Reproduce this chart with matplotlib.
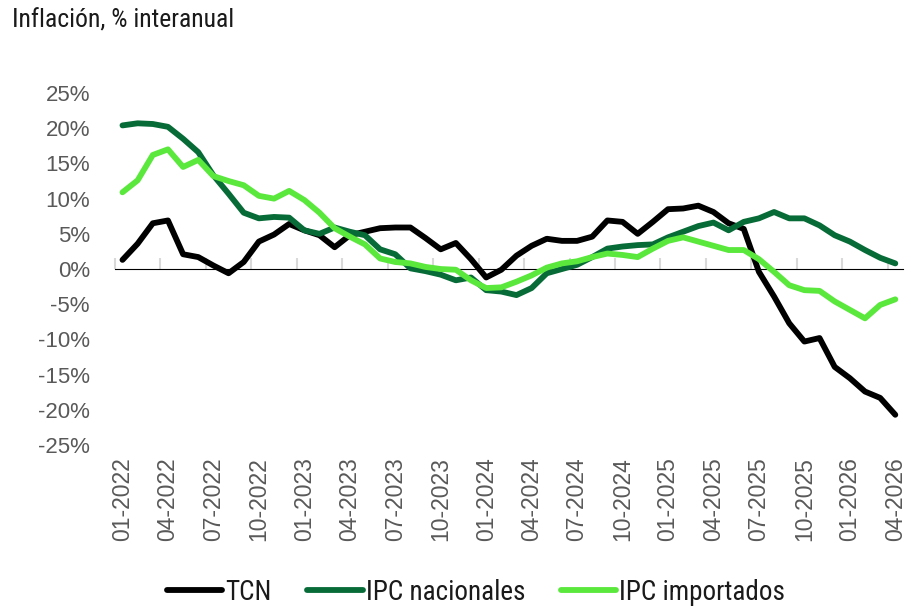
import matplotlib
matplotlib.use("Agg")
import matplotlib.pyplot as plt
from matplotlib import font_manager
import numpy as np

# ---------------------------------------------------------
# data
months = ['01', '02', '03', '04', '05', '06', '07', '08', '09', '10', '11', '12']
years = [2022, 2023, 2024, 2025, 2026]
dates = [m + '-' + str(y) for y in years for m in months][:52]  # 01-2022 .. 04-2026

tcn = [1.3, 3.6, 6.5, 6.9, 2.1, 1.7, 0.5, -0.6, 1.0, 3.9,
       4.9, 6.4, 5.5, 4.8, 3.1, 4.8, 5.3, 5.8, 5.9, 5.9,
       4.4, 2.8, 3.7, 1.4, -1.2, -0.1, 1.9, 3.3, 4.3, 4.0,
       4.0, 4.6, 6.9, 6.7, 5.0, 6.7, 8.5, 8.6, 9.0, 8.1,
       6.5, 5.7, -0.4, -3.9, -7.7, -10.3, -9.8, -13.9, -15.5, -17.4,
       -18.3, -20.7]

ipc_nac = [20.4, 20.7, 20.6, 20.2, 18.5, 16.6, 13.3, 10.7, 8.0, 7.2,
           7.4, 7.3, 5.5, 5.0, 5.9, 5.3, 4.8, 2.8, 2.1, 0.1,
           -0.3, -0.8, -1.6, -1.2, -3.0, -3.2, -3.7, -2.7, -0.6, 0.0,
           0.6, 1.7, 2.9, 3.2, 3.4, 3.5, 4.5, 5.3, 6.1, 6.6,
           5.5, 6.7, 7.2, 8.1, 7.2, 7.2, 6.2, 4.8, 3.9, 2.7,
           1.6, 0.8]

ipc_imp = [10.9, 12.6, 16.2, 17.0, 14.5, 15.5, 13.2, 12.5, 11.9, 10.4,
           10.0, 11.1, 9.8, 8.0, 5.8, 4.6, 3.5, 1.5, 1.0, 0.8,
           0.3, 0.0, -0.1, -1.6, -2.7, -2.6, -1.8, -0.9, 0.2, 0.8,
           1.1, 1.7, 2.2, 2.0, 1.7, 2.9, 4.0, 4.5, 3.9, 3.3,
           2.7, 2.7, 1.4, -0.4, -2.3, -3.0, -3.1, -4.6, -5.8, -7.0,
           -5.1, -4.3]

series = [('TCN', tcn, '#000000'),
          ('IPC nacionales', ipc_nac, '#076B37'),
          ('IPC importados', ipc_imp, '#5AE83C')]

y_ticks = np.arange(-25, 26, 5)
# ---------------------------------------------------------

names = {f.name for f in font_manager.fontManager.ttflist}
narrow = 'Roboto'
for cand in ['Liberation Sans Narrow', 'Roboto Condensed', 'Open Sans Condensed']:
    if cand in names:
        narrow = cand
        break
grey = '#595959'

fig = plt.figure(figsize=(9.12, 6.08), dpi=100)
ax = fig.add_axes([0.126, 0.268, 0.864, 0.579])

x = np.arange(len(dates))
for label, vals, color in series:
    ax.plot(x, vals, color=color, lw=4.2, solid_capstyle='round',
            solid_joinstyle='round', label=label)

ax.set_xlim(-0.5, len(dates) - 0.5)
ax.set_ylim(-25, 25)

ax.set_yticks(y_ticks)
ax.set_yticklabels(['%d%%' % v for v in y_ticks], family='Liberation Sans',
                   fontsize=16, color=grey)
ax.tick_params(axis='y', length=0, pad=18)

ax.set_xticks(x[::3])
ax.set_xticklabels(dates[::3], rotation=90, family='Liberation Sans',
                   fontsize=16.5, color=grey)
ax.tick_params(axis='x', length=0, pad=9)

for s in ax.spines.values():
    s.set_visible(False)

# category axis drawn through zero, tick marks between categories
sec = ax.secondary_xaxis(0.5)
sec.set_xticks(np.arange(-0.5, len(dates), 3))
sec.set_xticklabels([])
sec.tick_params(axis='x', direction='out', length=8, width=1.5, color='#D9D9D9')
sec.spines['bottom'].set_color('#D9D9D9')
sec.spines['bottom'].set_linewidth(1.5)
ax.set_zorder(2)

fig.text(0.013, 0.967, 'Inflación, % interanual', family=narrow,
         fontsize=18.5, va='center', ha='left', color='#1a1a1a')

leg = fig.legend(loc='center', bbox_to_anchor=(0.522, 0.026), ncol=3,
                 frameon=False, prop={'family': narrow, 'size': 19.5},
                 handlelength=2.05, handletextpad=0.12, columnspacing=1.3)
for t in leg.get_texts():
    t.set_color('#1a1a1a')

plt.savefig('out.png', dpi=100)
